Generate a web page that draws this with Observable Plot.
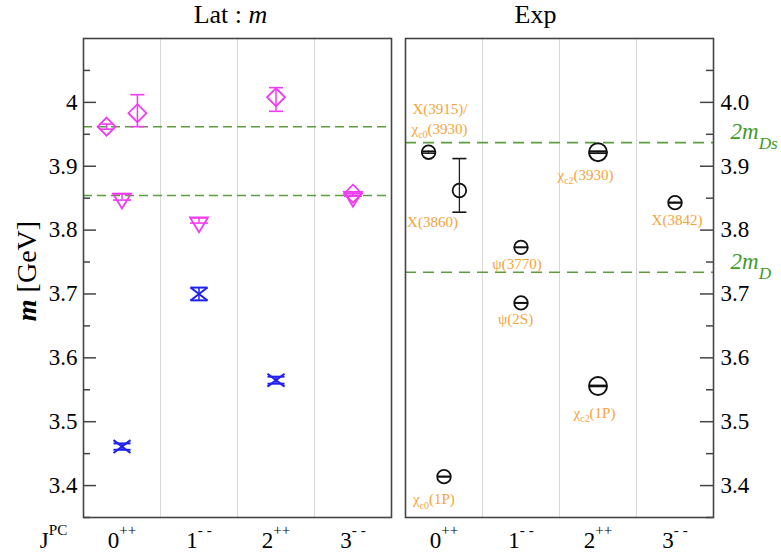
<!DOCTYPE html>
<html><head><meta charset="utf-8">
<script src="https://cdn.jsdelivr.net/npm/d3@7"></script>
<script src="https://cdn.jsdelivr.net/npm/@observablehq/plot@0.6"></script>
<style>
body{margin:0;background:#fff}
#wrap{position:relative;width:781px;height:559px;background:#fff}
#wrap svg{position:absolute;top:0}
</style>
</head><body><div id="wrap"></div>
<script>
// ---------------- data ----------------
const jpcLabels = ["0^{++}", "1^{- -}", "2^{++}", "3^{- -}"];
const leftTickLabels = ["3.4", "3.5", "3.6", "3.7", "3.8", "3.9", "4"];
const rightTickLabels = ["3.4", "3.5", "3.6", "3.7", "3.8", "3.9", "4.0"];
const majorTicks = [3.4, 3.5, 3.6, 3.7, 3.8, 3.9, 4.0];
const minorTicks = [3.35, 3.45, 3.55, 3.65, 3.75, 3.85, 3.95, 4.05];
const gridX = [0.5, 1.5, 2.5];

// Lattice results (x = J^PC slot, m in GeV)
const diamondJPC = [-0.2, 0.2, 2.0, 3.0];
const diamondMass = [3.962, 3.983, 4.008, 3.857];
const diamondLo = [3.958, 3.962, 3.986, 3.854];
const diamondHi = [3.966, 4.012, 4.023, 3.860];

const triangleJPC = [0.0, 1.0, 3.0];
const triangleMass = [3.852, 3.815, 3.855];
const triangleLo = [3.847, 3.811, 3.853];
const triangleHi = [3.857, 3.819, 3.857];

const crossJPC = [0.0, 1.0, 2.0];
const crossMass = [3.461, 3.700, 3.565];
const crossLo = [3.456, 3.690, 3.5595];
const crossHi = [3.466, 3.710, 3.5705];

const latThresholds = [3.962, 3.854];

// Experiment
const expNames = ["X(3915)/χc0(3930)", "X(3860)", "ψ(3770)", "ψ(2S)", "χc2(3930)", "χc2(1P)", "χc0(1P)", "X(3842)"];
const expJPC = [-0.2, 0.2, 1.0, 1.0, 2.0, 2.0, 0.0, 3.0];
const expMass = [3.922, 3.862, 3.773, 3.686, 3.922, 3.556, 3.414, 3.843];
const expLo = [3.9205, 3.828, 3.7728, 3.6857, 3.9205, 3.5553, 3.4136, 3.8425];
const expHi = [3.9235, 3.912, 3.7732, 3.6863, 3.9235, 3.5567, 3.4144, 3.8435];

const expLabelText = ["X(3915)/", "χ_{c0}(3930)", "X(3860)", "ψ(3770)", "ψ(2S)", "χ_{c2}(3930)", "χ_{c2}(1P)", "X(3842)", "χ_{c0}(1P)"];
const expLabelJPC = [-0.052, -0.058, -0.149, 0.948, 0.929, 1.838, 1.955, 3.026, -0.132];
const expLabelMass = [3.990, 3.958, 3.812, 3.747, 3.660, 3.886, 3.514, 3.815, 3.378];

const expThresholds = [3.937, 3.734];
const expThresholdLabels = ["2m_{Ds}", "2m_{D}"];

// ---------------- helpers ----------------
const zip = (keys, ...cols) => cols[0].map((_, i) => Object.fromEntries(keys.map((k, j) => [k, cols[j][i]])));
const diamonds = zip(["jpc", "m", "lo", "hi"], diamondJPC, diamondMass, diamondLo, diamondHi);
const triangles = zip(["jpc", "m", "lo", "hi"], triangleJPC, triangleMass, triangleLo, triangleHi);
const crosses = zip(["jpc", "m", "lo", "hi"], crossJPC, crossMass, crossLo, crossHi);
const exp = zip(["name", "jpc", "m", "lo", "hi"], expNames, expJPC, expMass, expLo, expHi);
const expLabels = zip(["text", "jpc", "m"], expLabelText, expLabelJPC, expLabelMass);
const thr = zip(["m", "label"], expThresholds, expThresholdLabels);

const rOf = s => Math.sqrt(s / Math.PI);
const hline = {draw(c, s) { const r = rOf(s); c.moveTo(-r, 0); c.lineTo(r, 0); }};
const diamondSym = {draw(c, s) { const r = rOf(s); c.moveTo(0, -r); c.lineTo(r, 0); c.lineTo(0, r); c.lineTo(-r, 0); c.closePath(); }};
const triDown = {draw(c, s) { const r = rOf(s); c.moveTo(-r, -0.35 * r); c.lineTo(r, -0.35 * r); c.lineTo(0, 1.3 * r); c.closePath(); }};
const xmark = {draw(c, s) { const r = rOf(s), h = 0.76 * r; c.moveTo(-r, -h); c.lineTo(r, h); c.moveTo(-r, h); c.lineTo(r, -h); }};

const MAG = "#f03cf0", BLUE = "#1f1ff0", ORANGE = "#f4a43a", GDASH = "#5c9e3e", GTEXT = "#3f9b28", FRAME = "#444";
const FONT = "'Liberation Serif', 'Times New Roman', serif";

const common = {
  height: 559, marginTop: 38, marginBottom: 42,
  x: {domain: [-0.5, 3.5], axis: null},
  y: {domain: [3.35, 4.1], axis: null},
  style: {fontFamily: FONT, background: "transparent", overflow: "visible", color: "black"}
};

const xLabels = () => [
  Plot.text(jpcLabels, {x: (d, i) => i, text: d => d, frameAnchor: "bottom", lineAnchor: "middle", textAnchor: "middle", dy: 23, fontSize: 23})
];

// ---------------- left panel ----------------
const left = Plot.plot({
  ...common, width: 395, marginLeft: 83, marginRight: 4,
  marks: [
    Plot.ruleX(gridX, {stroke: "#d9d9d9", strokeWidth: 1}),
    Plot.ruleY(latThresholds, {stroke: GDASH, strokeWidth: 1.5, strokeDasharray: "9,5"}),
    Plot.frame({stroke: FRAME, strokeWidth: 1.6}),
    Plot.tickY(majorTicks, {y: d => d, insetRight: 295, stroke: FRAME, strokeWidth: 1.5}),
    Plot.tickY(minorTicks, {y: d => d, insetRight: 301, stroke: FRAME, strokeWidth: 1.5}),
    Plot.text(leftTickLabels, {y: d => +d, text: d => d, frameAnchor: "left", textAnchor: "end", lineAnchor: "middle", dx: -6, fontSize: 23}),
    ...xLabels(),
    // error bars
    Plot.ruleX(diamonds, {x: "jpc", y1: "lo", y2: "hi", stroke: MAG, strokeWidth: 1.5}),
    Plot.dot(diamonds, {x: "jpc", y: "lo", symbol: hline, r: 7, fill: "none", stroke: MAG, strokeWidth: 1.6}),
    Plot.dot(diamonds, {x: "jpc", y: "hi", symbol: hline, r: 7, fill: "none", stroke: MAG, strokeWidth: 1.6}),
    Plot.dot(diamonds, {x: "jpc", y: "m", symbol: diamondSym, r: 9, fill: "none", stroke: MAG, strokeWidth: 1.8}),
    Plot.ruleX(triangles, {x: "jpc", y1: "lo", y2: "hi", stroke: MAG, strokeWidth: 1.5}),
    Plot.dot(triangles, {x: "jpc", y: "lo", symbol: hline, r: 9, fill: "none", stroke: MAG, strokeWidth: 1.6}),
    Plot.dot(triangles, {x: "jpc", y: "hi", symbol: hline, r: 9, fill: "none", stroke: MAG, strokeWidth: 1.6}),
    Plot.dot(triangles, {x: "jpc", y: "m", symbol: triDown, r: 9, fill: "none", stroke: MAG, strokeWidth: 1.8}),
    Plot.ruleX(crosses, {x: "jpc", y1: "lo", y2: "hi", stroke: BLUE, strokeWidth: 1.5}),
    Plot.dot(crosses, {x: "jpc", y: "lo", symbol: hline, r: 8.5, fill: "none", stroke: BLUE, strokeWidth: 2}),
    Plot.dot(crosses, {x: "jpc", y: "hi", symbol: hline, r: 8.5, fill: "none", stroke: BLUE, strokeWidth: 2}),
    Plot.dot(crosses, {x: "jpc", y: "m", symbol: xmark, r: 8.5, fill: "none", stroke: BLUE, strokeWidth: 2}),
    // texts
    Plot.text(["Lat : *m*"], {text: d => d, frameAnchor: "top", textAnchor: "middle", lineAnchor: "middle", dy: -24, dx: -7, fontSize: 26}),
    Plot.text(["**m** [GeV]"], {text: d => d, frameAnchor: "left", textAnchor: "middle", lineAnchor: "middle", rotate: -90, dx: -56, dy: -7, fontSize: 28}),
    Plot.text(["J^{PC}"], {text: d => d, frameAnchor: "bottom-left", textAnchor: "middle", lineAnchor: "middle", dx: -30, dy: 23, fontSize: 23})
  ]
});

// ---------------- right panel ----------------
const big = d => d.name.startsWith("χc2");
const right = Plot.plot({
  ...common, width: 386, marginLeft: 10, marginRight: 68,
  marks: [
    Plot.ruleX(gridX, {stroke: "#d9d9d9", strokeWidth: 1}),
    Plot.ruleY(expThresholds, {stroke: GDASH, strokeWidth: 1.6, strokeDasharray: "11,7"}),
    Plot.frame({stroke: FRAME, strokeWidth: 1.6}),
    Plot.tickY(majorTicks, {y: d => d, insetLeft: 295, stroke: FRAME, strokeWidth: 1.5}),
    Plot.tickY(minorTicks, {y: d => d, insetLeft: 301, stroke: FRAME, strokeWidth: 1.5}),
    Plot.text(rightTickLabels, {y: d => +d, text: d => d, frameAnchor: "right", textAnchor: "start", lineAnchor: "middle", dx: 7, fontSize: 23}),
    ...xLabels(),
    Plot.ruleX(exp, {x: "jpc", y1: "lo", y2: "hi", stroke: "#222", strokeWidth: 1.3}),
    Plot.dot(exp, {filter: d => !big(d), x: "jpc", y: "lo", symbol: hline, r: 7, fill: "none", stroke: "#111", strokeWidth: 1.6}),
    Plot.dot(exp, {filter: d => !big(d), x: "jpc", y: "hi", symbol: hline, r: 7, fill: "none", stroke: "#111", strokeWidth: 1.6}),
    Plot.dot(exp, {filter: big, x: "jpc", y: "lo", symbol: hline, r: 9, fill: "none", stroke: "#111", strokeWidth: 1.8}),
    Plot.dot(exp, {filter: big, x: "jpc", y: "hi", symbol: hline, r: 9, fill: "none", stroke: "#111", strokeWidth: 1.8}),
    Plot.dot(exp, {filter: d => !big(d), x: "jpc", y: "m", r: 6.8, fill: "none", stroke: "#111", strokeWidth: 1.8}),
    Plot.dot(exp, {filter: big, x: "jpc", y: "m", r: 9, fill: "none", stroke: "#111", strokeWidth: 1.9}),
    Plot.text(expLabels, {x: "jpc", y: "m", text: "text", textAnchor: "middle", lineAnchor: "middle", fill: ORANGE, fontSize: 15}),
    Plot.text(thr, {y: "m", text: "label", frameAnchor: "right", textAnchor: "start", lineAnchor: "middle", dx: 17, dy: -11, fontSize: 23, fontStyle: "italic", fill: GTEXT, className: "deepsub"}),
    Plot.text(["Exp"], {text: d => d, frameAnchor: "top", textAnchor: "middle", lineAnchor: "middle", dy: -24, dx: -24, fontSize: 26})
  ]
});

const wrap = document.getElementById("wrap");
left.style.left = "0px";
right.style.left = "395px";
wrap.appendChild(left);
wrap.appendChild(right);

// rich-text: _{sub}, ^{sup}, *italic*, **bold italic**
function richify(root, selector, {sub = 0.3, sup = 0.5, scale = 0.68} = {}) {
  d3.select(root).selectAll(selector).each(function () {
    const s = this.textContent;
    if (!/_\{|\^\{|\*/.test(s)) return;
    const fs = parseFloat(getComputedStyle(this).fontSize) || 16;
    const el = d3.select(this);
    el.text(null);
    const re = /_\{[^}]*\}|\^\{[^}]*\}|\*\*[^*]+\*\*|\*[^*]+\*|[^_^*]+/g;
    let cur = 0;
    for (const tok of s.match(re)) {
      let t = tok, off = 0, small = false, it = false, bd = false;
      if (tok.startsWith("_{")) { t = tok.slice(2, -1); off = sub; small = true; }
      else if (tok.startsWith("^{")) { t = tok.slice(2, -1); off = -sup; small = true; }
      else if (tok.startsWith("**")) { t = tok.slice(2, -2); it = bd = true; }
      else if (tok.startsWith("*")) { t = tok.slice(1, -1); it = true; }
      const ts = el.append("tspan").text(t);
      const target = off * fs;
      if (target !== cur) ts.attr("dy", (target - cur).toFixed(2));
      cur = target;
      if (small) ts.attr("font-size", (scale * fs).toFixed(2) + "px");
      if (it) ts.attr("font-style", "italic");
      if (bd) ts.attr("font-weight", "bold");
    }
  });
}
richify(wrap, "g.deepsub text", {sub: 0.45, scale: 0.75});
richify(wrap, "text", {sub: 0.28, sup: 0.55, scale: 0.66});
</script>
</body></html>
